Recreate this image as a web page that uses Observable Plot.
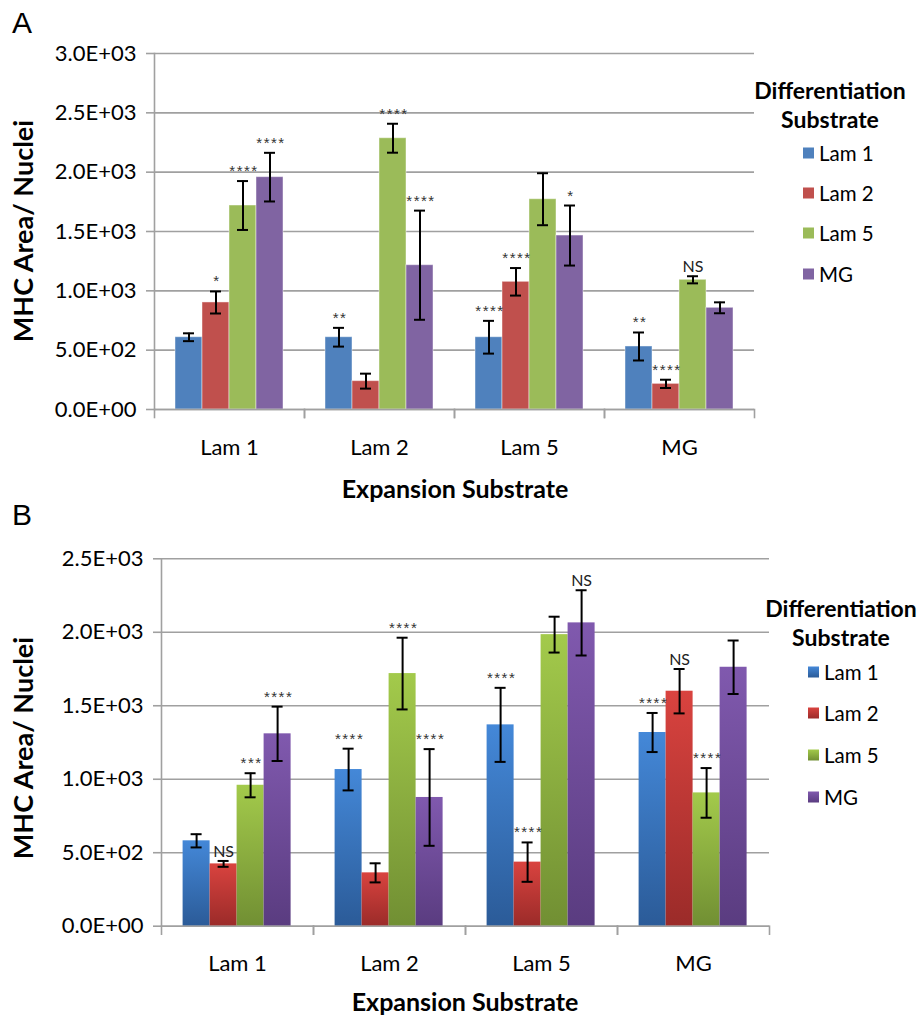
<!DOCTYPE html>
<html><head><meta charset="utf-8">
<script src="https://cdn.jsdelivr.net/npm/d3@7"></script>
<script src="https://cdn.jsdelivr.net/npm/@observablehq/plot@0.6"></script>
<style>
body{margin:0;background:#fff;font-family:Lato,sans-serif;}
#wrap{position:relative;width:919px;height:1015px;overflow:hidden;background:#fff}
.panel{position:absolute;left:0}
.abs{position:absolute;white-space:nowrap;color:#000}
.letter{font-family:"Liberation Sans",Arial,sans-serif;font-size:30px;}
.ytitle{font-weight:bold;font-size:27px;line-height:27px;transform:translate(-50%,-50%) rotate(-90deg);}
.xtitle{font-weight:bold;font-size:25px;line-height:25px;transform:translate(-50%,-50%);}
.ltitle{font-weight:bold;font-size:23px;line-height:29px;text-align:center;transform:translateX(-50%);}
.litem{font-size:20.5px;line-height:21px;transform:translateY(-50%);display:flex;align-items:center}
.litem span.sw{display:inline-block;width:11px;height:11px;margin-right:5px}
</style></head><body><div id="wrap"></div>
<script>
// ---- data ----
const expansion = ["Lam 1", "Lam 2", "Lam 5", "MG"];
const differentiation = ["Lam 1", "Lam 2", "Lam 5", "MG"];

// Panel A: rows = expansion substrate, columns = differentiation substrate
const meanA = [[609, 902, 1719, 1958], [609, 239, 2286, 1216], [609, 1076, 1772, 1466], [531, 216, 1093, 857]];
const errA  = [[33, 93, 206, 205], [79, 63, 122, 460], [138, 116, 219, 253], [118, 35, 30, 46]];
const sigA  = [["", "*", "****", "****"], ["**", "", "****", "****"], ["****", "****", "", "*"], ["**", "****", "NS", ""]];
const ticksA = [0, 500, 1000, 1500, 2000, 2500, 3000];
const tickLabelsA = ["0.0E+00", "5.0E+02", "1.0E+03", "1.5E+03", "2.0E+03", "2.5E+03", "3.0E+03"];

// Panel B
const meanB = [[581, 424, 959, 1309], [1066, 363, 1719, 876], [1370, 436, 1984, 2064], [1318, 1599, 907, 1762]];
const errB  = [[45, 20, 82, 185], [142, 65, 244, 329], [252, 134, 122, 222], [133, 151, 169, 182]];
const sigB  = [["", "NS", "***", "****"], ["****", "", "****", "****"], ["****", "****", "", "NS"], ["****", "NS", "****", ""]];
const ticksB = [0, 500, 1000, 1500, 2000, 2500];
const tickLabelsB = ["0.0E+00", "5.0E+02", "1.0E+03", "1.5E+03", "2.0E+03", "2.5E+03"];

const colorsA = ["#4f81bd", "#c0504d", "#9bbb59", "#8064a2"];
const gradTopB = ["#4488d8", "#d9433f", "#a3ca4b", "#8059ae"];
const gradBotB = ["#2b5b98", "#9b2b29", "#718f33", "#5a3c80"];

const yTitle = "MHC Area/ Nuclei";
const xTitle = "Expansion Substrate";
const legendTitle = ["Differentiation", "Substrate"];
const GRID = "#a0a0a0";

function rowsOf(means, errs, sigs) {
  const rows = [];
  expansion.forEach((e, i) => differentiation.forEach((d, j) =>
    rows.push({expansion: e, diff: d, mean: means[i][j], err: errs[i][j], sig: sigs[i][j]})));
  return rows;
}

function panel({means, errs, sigs, ticks, tickLabels, height, mt, mb, ml, mr, pad, colorRange, barStroke, fxPad}) {
  const rows = rowsOf(means, errs, sigs);
  const innerH = height - mt - mb;
  const stars = rows.filter(d => d.sig && d.sig.includes("*"));
  const ns = rows.filter(d => d.sig && !d.sig.includes("*"));
  const svg = Plot.plot({
    width: 919, height,
    marginTop: mt, marginBottom: mb, marginLeft: ml, marginRight: mr,
    style: {fontFamily: "Lato, sans-serif", background: "transparent", overflow: "visible", color: "black"},
    fx: {domain: expansion, padding: 0, label: null},
    x: {domain: differentiation, axis: null, paddingInner: 0, paddingOuter: pad},
    y: {domain: [ticks[0], ticks[ticks.length - 1]], axis: null},
    color: {domain: differentiation, range: colorRange},
    marks: [
      Plot.gridY(ticks, {stroke: GRID, strokeOpacity: 1, strokeWidth: 1.6}),
      Plot.axisY(ticks, {tickFormat: d => tickLabels[ticks.indexOf(d)], tickSize: 8, tickPadding: 10, stroke: GRID, strokeWidth: 1.6, fill: "black", fontSize: 22, label: null}),
      Plot.frame({anchor: "left", facet: "super", stroke: GRID, strokeWidth: 1.6}),
      Plot.frame({anchor: "left", insetTop: innerH, insetBottom: -8, stroke: GRID, strokeWidth: 1.6}),
      Plot.frame({anchor: "right", insetTop: innerH, insetBottom: -8, stroke: GRID, strokeWidth: 1.6}),
      Plot.barY(rows, {fx: "expansion", x: "diff", y: "mean", fill: "diff", stroke: barStroke, strokeOpacity: 0.45, strokeWidth: 1}),
      Plot.ruleY([0], {stroke: GRID, strokeWidth: 1.6}),
      Plot.ruleX(rows, {fx: "expansion", x: "diff", y1: d => d.mean - d.err, y2: d => d.mean + d.err, stroke: "black", strokeWidth: 2}),
      Plot.tickY(rows, {fx: "expansion", x: "diff", y: d => d.mean + d.err, stroke: "black", strokeWidth: 2, insetLeft: 8, insetRight: 8}),
      Plot.tickY(rows, {fx: "expansion", x: "diff", y: d => d.mean - d.err, stroke: "black", strokeWidth: 2, insetLeft: 8, insetRight: 8}),
      Plot.text(stars, {fx: "expansion", x: "diff", y: d => d.mean + d.err, text: "sig", dy: -5, dx: 1, lineAnchor: "bottom", fontSize: 15, fontFamily: "Liberation Sans, sans-serif", fill: "#333"}),
      Plot.text(ns, {fx: "expansion", x: "diff", y: d => d.mean + d.err, text: "sig", dy: -4, lineAnchor: "bottom", fontSize: 16, fill: "#222"}),
      Plot.axisFx({anchor: "bottom", tickSize: 0, tickPadding: fxPad, fontSize: 22, label: null, fill: "black"})
    ]
  });
  d3.select(svg).selectAll("text").filter(function () { return /^\*+$/.test(this.textContent); })
    .style("letter-spacing", "1.5px");
  return svg;
}

const wrap = document.getElementById("wrap");

function place(el, top) {
  el.classList.add("panel");
  el.style.top = top + "px";
  wrap.appendChild(el);
}

function addText(cls, text, left, top) {
  const d = document.createElement("div");
  d.className = "abs " + cls;
  d.textContent = text;
  d.style.left = left + "px";
  d.style.top = top + "px";
  wrap.appendChild(d);
  return d;
}

// Panel A
const A = panel({means: meanA, errs: errA, sigs: sigA, ticks: ticksA, tickLabels: tickLabelsA,
  height: 500, mt: 53, mb: 91, ml: 153, mr: 164, pad: 0.745, colorRange: colorsA, barStroke: "white", fxPad: 30});
place(A, 0);

// Panel B with gradients
const gradIds = differentiation.map((d, i) => "gradB" + i);
const B = panel({means: meanB, errs: errB, sigs: sigB, ticks: ticksB, tickLabels: tickLabelsB,
  height: 515, mt: 58.3, mb: 89.3, ml: 160.4, mr: 149, pad: 0.74, colorRange: gradIds.map(id => `url(#${id})`), barStroke: "none", fxPad: 29});
const defs = d3.select(B).insert("defs", ":first-child");
gradIds.forEach((id, i) => {
  const g = defs.append("linearGradient").attr("id", id).attr("x1", 0).attr("y1", 0).attr("x2", 0).attr("y2", 1);
  g.append("stop").attr("offset", "0%").attr("stop-color", gradTopB[i]);
  g.append("stop").attr("offset", "100%").attr("stop-color", gradBotB[i]);
});
place(B, 500);

// Letters, titles
addText("letter", "A", 12, 6);
addText("letter", "B", 12, 498);
addText("ytitle", yTitle, 22, 231);
addText("ytitle", yTitle, 22, 748);
addText("xtitle", xTitle, 455, 488);
addText("xtitle", xTitle, 465, 1001);

// Legends
function legend(cx, titleTop, itemLeft, itemYs, swatch) {
  const t = addText("ltitle", "", cx, titleTop);
  t.innerHTML = legendTitle.join("<br>");
  differentiation.forEach((d, i) => {
    const it = addText("litem", "", itemLeft, itemYs[i]);
    const sw = document.createElement("span");
    sw.className = "sw";
    sw.style.background = swatch(i);
    it.appendChild(sw);
    it.appendChild(document.createTextNode(d));
  });
}
legend(830, 76, 803, [153, 193, 233, 274], i => colorsA[i]);
legend(841, 594, 808, [672, 713, 755, 797], i => `linear-gradient(${gradTopB[i]}, ${gradBotB[i]})`);
</script>
</body></html>
